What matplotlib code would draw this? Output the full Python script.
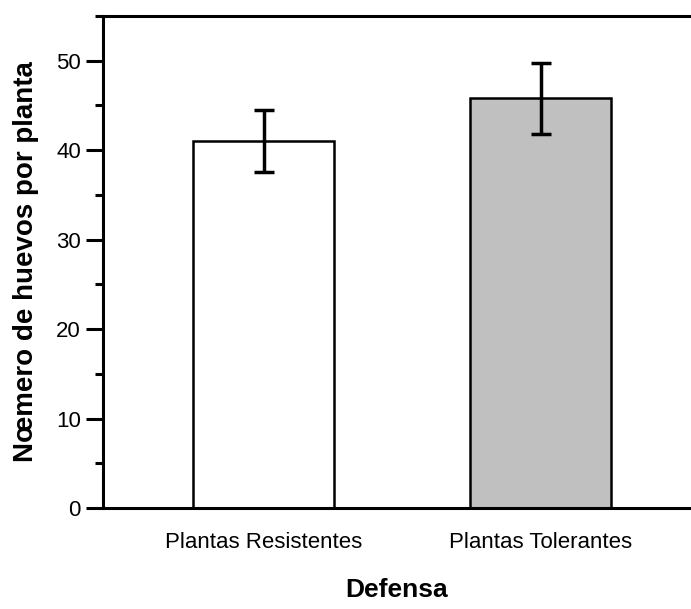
import matplotlib.pyplot as plt
from matplotlib.ticker import MultipleLocator

plt.rcParams['font.family'] = ['Liberation Sans', 'DejaVu Sans']

categories = ['Plantas Resistentes', 'Plantas Tolerantes']
means = [41.0, 45.8]
err_low = [37.6, 41.8]
err_high = [44.5, 49.8]
colors = ['white', '#c0c0c0']


def draw():
    fig = plt.figure(figsize=(6.91, 6.09), dpi=100)
    ax = fig.add_axes([103 / 691, 101 / 609, 588 / 691, 492 / 609])

    x = list(range(len(categories)))
    yerr = [[m - lo for m, lo in zip(means, err_low)],
            [hi - m for m, hi in zip(means, err_high)]]
    ax.bar(x, means, width=0.51, color=colors, edgecolor='black', linewidth=1.8, zorder=2)
    ax.errorbar(x, means, yerr=yerr, fmt='none', ecolor='black', elinewidth=2.5,
                capsize=7, capthick=2.5, zorder=3)

    ax.set_xlim(-0.58, 1.543)
    ax.set_ylim(0, 55)
    ax.set_xticks(x)
    ax.set_xticklabels(categories, fontsize=16)
    ax.tick_params(axis='x', length=0, pad=17)
    ax.yaxis.set_major_locator(MultipleLocator(10))
    ax.yaxis.set_minor_locator(MultipleLocator(5))
    ax.tick_params(axis='y', which='major', length=12, width=2.2, labelsize=16, pad=4)
    ax.tick_params(axis='y', which='minor', length=6, width=2.2)

    for side in ['left', 'top', 'bottom']:
        ax.spines[side].set_linewidth(2.2)
    ax.spines['right'].set_visible(False)

    ax.set_xlabel('Defensa', fontsize=19, fontweight='bold', labelpad=18)
    ax.set_ylabel('Nœmero de huevos por planta', fontsize=20, fontweight='bold', labelpad=12)

    fig.savefig('out.png', dpi=100)


if __name__ == "__main__":
    draw()
